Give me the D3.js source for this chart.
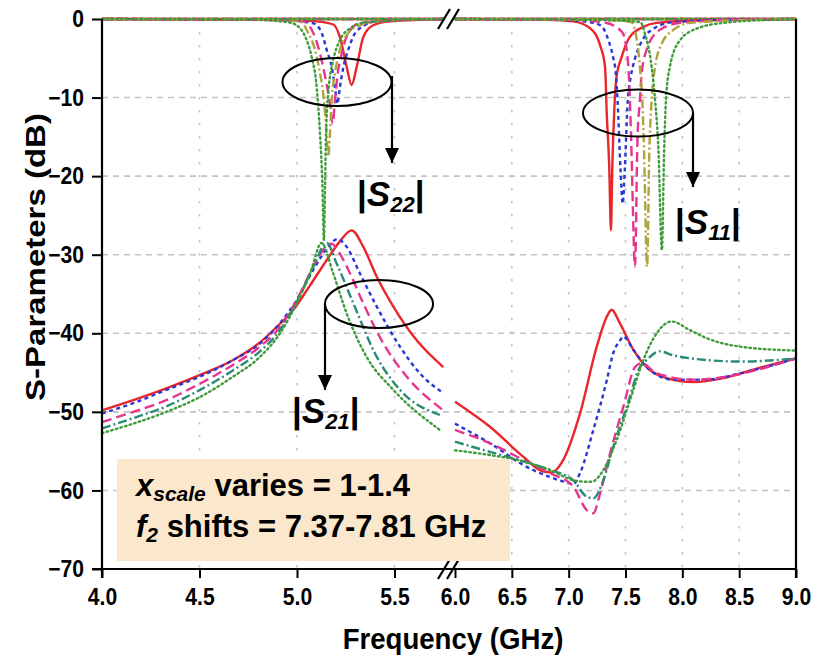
<!DOCTYPE html>
<html>
<head>
<meta charset="utf-8">
<script src="https://cdn.jsdelivr.net/npm/d3@7"></script>
<style>
  body { margin: 0; background: #fff; }
  svg text { font-family: "Liberation Sans", Arial, Helvetica, sans-serif; font-weight: bold; fill: #000; }
</style>
</head>
<body>
<svg id="chart" width="813" height="667"></svg>
<script>
// ---- axis ticks ----
const freqTicksLeft = [4.0, 4.5, 5.0, 5.5];
const freqTicksRight = [6.0, 6.5, 7.0, 7.5, 8.0, 8.5, 9.0];
const dbTicks = [0, -10, -20, -30, -40, -50, -60, -70];
const xscaleLabels = ["1.0", "1.1", "1.2", "1.3", "1.4"];

// ---- |S11| (dB) vs frequency (GHz), x_scale = 1.0 ... 1.4 ----
const s11Red = [[4.0,0],[5.75,0],[6.0,0],[6.8,-0.1],[7.04,-0.3],[7.19,-1.2],[7.28,-3.5],[7.32,-6.1],[7.335,-12],[7.357,-18.8],[7.372,-26.9],[7.384,-18.8],[7.399,-12.4],[7.42,-7.5],[7.467,-4.8],[7.54,-2.25],[7.657,-1.0],[7.774,-0.5],[8.2,-0.15],[9.0,0]];
const s11Blue = [[4.0,0],[5.75,0],[6.0,0],[6.9,-0.1],[7.13,-0.3],[7.28,-0.8],[7.35,-2.7],[7.39,-4.8],[7.415,-7],[7.43,-10.3],[7.455,-18.8],[7.475,-23.5],[7.495,-18.8],[7.52,-10.3],[7.545,-7.5],[7.584,-5],[7.657,-2.5],[7.75,-1.2],[7.92,-0.4],[8.4,-0.1],[9.0,0]];
const s11Magenta = [[4.0,0],[5.75,0],[6.0,0],[7.0,-0.1],[7.3,-0.4],[7.467,-1.6],[7.51,-3.9],[7.533,-8.2],[7.55,-15.4],[7.584,-31.5],[7.605,-15.4],[7.627,-10.3],[7.64,-7.3],[7.686,-3.9],[7.80,-1.4],[7.98,-0.5],[8.5,-0.1],[9.0,0]];
const s11Olive = [[4.0,0],[5.75,0],[6.0,0],[7.1,-0.1],[7.45,-0.2],[7.55,-0.4],[7.6,-2.7],[7.627,-6.1],[7.648,-10.3],[7.663,-16.7],[7.69,-31.5],[7.71,-16.7],[7.73,-10.3],[7.76,-6.1],[7.82,-3.1],[7.92,-1.4],[8.07,-0.5],[8.6,-0.1],[9.0,0]];
const s11Green = [[4.0,0],[5.75,0],[6.0,0],[7.2,-0.1],[7.63,-0.4],[7.67,-1.8],[7.73,-6.1],[7.76,-10.3],[7.79,-16.7],[7.82,-29.4],[7.84,-16.7],[7.856,-10.3],[7.89,-6.1],[7.98,-2.7],[8.13,-1.2],[8.36,-0.5],[8.8,-0.1],[9.0,0]];

// ---- |S22| (dB) ----
const s22Red = [[4.0,0],[4.9,-0.1],[5.1,-0.3],[5.186,-0.7],[5.22,-2.3],[5.255,-6.1],[5.28,-8.4],[5.306,-6.1],[5.34,-2.3],[5.39,-0.8],[5.477,-0.3],[5.75,-0.05],[6.0,0],[9.0,0]];
const s22Blue = [[4.0,0],[4.9,-0.1],[5.084,-0.55],[5.127,-1.8],[5.152,-3.9],[5.178,-6.1],[5.195,-8.7],[5.207,-10.8],[5.22,-8.7],[5.238,-6.1],[5.263,-3.9],[5.289,-2.2],[5.34,-0.9],[5.41,-0.3],[5.75,0],[6.0,0],[9.0,0]];
const s22Magenta = [[4.0,0],[4.85,-0.1],[5.03,-0.3],[5.084,-1.8],[5.118,-4.4],[5.144,-7.3],[5.166,-10.3],[5.183,-13.3],[5.195,-10.3],[5.207,-7.3],[5.229,-4.4],[5.263,-1.8],[5.323,-0.5],[5.75,0],[6.0,0],[9.0,0]];
const s22Olive = [[4.0,0],[4.8,-0.1],[5.015,-0.3],[5.058,-1.8],[5.092,-3.9],[5.118,-6.9],[5.138,-10.3],[5.152,-14.6],[5.16,-17.5],[5.169,-14.6],[5.178,-10.3],[5.195,-6.9],[5.22,-3.9],[5.263,-1.8],[5.323,-0.8],[5.45,-0.2],[5.75,0],[6.0,0],[9.0,0]];
const s22Green = [[4.0,0],[4.75,-0.1],[4.95,-0.4],[4.998,-0.8],[5.041,-2.2],[5.075,-4.8],[5.101,-8.7],[5.118,-14.6],[5.13,-20.9],[5.138,-28.1],[5.144,-20.9],[5.149,-14.6],[5.16,-9.5],[5.186,-5.2],[5.22,-2.7],[5.272,-1.2],[5.357,-0.4],[5.75,0],[6.0,0],[9.0,0]];

// ---- |S21| (dB) ----
const s21Red = [[4.0,-49.8],[4.16,-48.5],[4.33,-47.0],[4.503,-45.3],[4.673,-43.4],[4.793,-41.5],[4.896,-39.2],[4.981,-37.0],[5.067,-33.9],[5.152,-30.7],[5.22,-28.3],[5.28,-26.9],[5.34,-29.0],[5.409,-32.8],[5.494,-36.6],[5.614,-40.9],[5.75,-44.3],
  [6.0,-48.7],[6.308,-51.9],[6.6,-55.7],[6.777,-57.6],[6.85,-57.7],[6.953,-56.1],[7.1,-50.2],[7.247,-41.7],[7.335,-37.9],[7.378,-37.0],[7.45,-38.7],[7.569,-42.1],[7.686,-44.3],[7.862,-45.7],[8.097,-46.2],[8.36,-45.7],[8.654,-44.5],[9.0,-43.2]];
const s21Blue = [[4.0,-50.2],[4.16,-48.9],[4.33,-47.2],[4.503,-45.5],[4.673,-43.4],[4.81,-41.3],[4.913,-38.7],[4.998,-35.8],[5.084,-31.9],[5.16,-29.0],[5.207,-28.0],[5.255,-29.0],[5.323,-32.4],[5.409,-36.6],[5.528,-41.7],[5.63,-45.1],[5.75,-47.6],
  [6.0,-51.5],[6.308,-54.0],[6.63,-57.0],[6.836,-58.3],[7.01,-59.1],[7.04,-59.2],[7.1,-57.8],[7.217,-52.3],[7.335,-46.0],[7.393,-42.5],[7.452,-40.9],[7.48,-40.4],[7.569,-42.1],[7.686,-44.3],[7.92,-45.9],[8.21,-45.9],[8.507,-45.1],[9.0,-43.2]];
const s21Magenta = [[4.0,-51.3],[4.16,-50.0],[4.33,-48.5],[4.503,-46.4],[4.673,-44.0],[4.81,-41.7],[4.913,-39.2],[4.998,-35.8],[5.084,-31.5],[5.14,-29.2],[5.178,-28.6],[5.21,-29.5],[5.255,-31.5],[5.34,-36.2],[5.443,-41.3],[5.562,-45.5],[5.75,-49.8],
  [6.0,-52.3],[6.308,-54.0],[6.6,-56.1],[6.836,-57.8],[7.04,-59.5],[7.159,-62.5],[7.217,-62.9],[7.276,-60.4],[7.364,-55.3],[7.48,-49.4],[7.584,-44.3],[7.64,-43.8],[7.774,-45.1],[8.1,-45.9],[8.4,-45.5],[8.7,-44.5],[9.0,-43.2]];
const s21Teal = [[4.0,-52.1],[4.16,-50.8],[4.33,-49.3],[4.503,-47.2],[4.673,-44.7],[4.81,-42.3],[4.913,-39.6],[4.998,-36.0],[5.084,-31.5],[5.152,-28.5],[5.203,-31.1],[5.289,-36.2],[5.409,-43.0],[5.528,-47.2],[5.733,-50.4],
  [6.0,-53.8],[6.308,-55.1],[6.6,-56.3],[6.836,-57.4],[7.04,-58.7],[7.159,-60.8],[7.217,-61.0],[7.305,-58.7],[7.393,-54.4],[7.51,-49.4],[7.627,-44.3],[7.686,-43.4],[7.80,-42.3],[7.92,-42.8],[8.21,-43.4],[8.507,-43.6],[9.0,-43.2]];
const s21Green = [[4.0,-52.7],[4.16,-51.5],[4.33,-50.0],[4.503,-48.1],[4.673,-45.5],[4.81,-43.0],[4.913,-40.0],[4.998,-36.2],[5.067,-32.4],[5.126,-28.5],[5.186,-32.4],[5.255,-37.5],[5.357,-43.0],[5.494,-47.2],[5.733,-52.3],
  [6.0,-54.9],[6.308,-55.5],[6.6,-56.3],[6.836,-57.4],[7.04,-58.7],[7.159,-58.9],[7.2,-58.9],[7.305,-57.4],[7.422,-53.6],[7.54,-48.5],[7.657,-43.4],[7.774,-40.0],[7.906,-38.5],[8.067,-39.6],[8.21,-40.6],[8.507,-41.7],[9.0,-42.2]];

// ---- line styles per x_scale ----
const reflColors = ["#e8262b", "#2a35d8", "#e5358f", "#b0a23c", "#3f9c3a"];
const transColors = ["#e8262b", "#2a35d8", "#e5358f", "#2b8a78", "#3f9c3a"];
const dashes = [null, "4,3.5", "10,5", "9,3,2,3", "1.6,3.2"];

// ---- layout ----
const svg = d3.select("#chart");
const L = 102, R = 796, T = 19, B = 569;
const leftEnd = 5.75;
const xL = d3.scaleLinear().domain([4.0, leftEnd]).range([L, L + (leftEnd - 4.0) * 195]);
const xR = d3.scaleLinear().domain([6.0, 9.0]).range([455, R]);
const y = d3.scaleLinear().domain([-70, 0]).range([B, T]);

// grid
const grid = svg.append("g");
grid.selectAll("line.h").data(dbTicks.filter(d => d < 0 && d > -70)).enter().append("line")
  .attr("x1", L).attr("x2", R).attr("y1", d => y(d)).attr("y2", d => y(d))
  .attr("stroke", "#c4c4c4").attr("stroke-width", 1.6).attr("stroke-dasharray", "6,5");
const vgrid = freqTicksLeft.filter(d => d > 4).map(d => xL(d))
  .concat(freqTicksRight.filter(d => d > 6 && d < 9).map(d => xR(d)));
grid.selectAll("line.v").data(vgrid).enter().append("line")
  .attr("x1", d => d).attr("x2", d => d).attr("y1", T).attr("y2", B)
  .attr("stroke", "#c4c4c4").attr("stroke-width", 1.6).attr("stroke-dasharray", "2.5,10.5");

// curves (left and right of the axis break drawn separately)
const curves = svg.append("g").attr("fill", "none");
function drawSeries(data, color, dash) {
  const parts = [[data.filter(d => d[0] <= leftEnd + 1e-9), xL], [data.filter(d => d[0] >= 6.0 - 1e-9), xR]];
  parts.forEach(([pts, x]) => {
    if (pts.length < 2) return;
    curves.append("path").datum(pts)
      .attr("d", d3.line().x(d => x(d[0])).y(d => y(d[1])).curve(d3.curveMonotoneX))
      .attr("stroke", color).attr("stroke-width", 2.4)
      .attr("stroke-dasharray", dash)
      .attr("stroke-linecap", dash === dashes[4] ? "round" : "butt");
  });
}
const s21Set = [s21Red, s21Blue, s21Magenta, s21Teal, s21Green];
const s22Set = [s22Red, s22Blue, s22Magenta, s22Olive, s22Green];
const s11Set = [s11Red, s11Blue, s11Magenta, s11Olive, s11Green];
s21Set.forEach((s, i) => drawSeries(s, transColors[i], dashes[i]));
s22Set.forEach((s, i) => drawSeries(s, reflColors[i], dashes[i]));
s11Set.forEach((s, i) => drawSeries(s, reflColors[i], dashes[i]));

// axes (tick text slightly condensed horizontally)
const squeeze = 0.88;
const fmt = d3.format(".1f");
const axisY = svg.append("g").attr("transform", `translate(${L},0)`)
  .call(d3.axisLeft(y).tickValues(dbTicks).tickFormat(d3.format("d")).tickSize(10).tickPadding(10.5));
const axisXL = svg.append("g").attr("transform", `translate(0,${B})`)
  .call(d3.axisBottom(xL).tickValues(freqTicksLeft).tickFormat(fmt).tickSize(9).tickPadding(9.5));
const axisXR = svg.append("g").attr("transform", `translate(0,${B})`)
  .call(d3.axisBottom(xR).tickValues(freqTicksRight).tickFormat(fmt).tickSize(9).tickPadding(9.5));
[axisY, axisXL, axisXR].forEach(a => {
  a.select(".domain").remove();
  a.selectAll(".tick line").attr("stroke", "#000").attr("stroke-width", 2);
  a.selectAll(".tick text").attr("font-size", 24).attr("transform", `scale(${squeeze},1)`);
});

// frame
const frame = svg.append("g").attr("stroke", "#000").attr("stroke-width", 2.2);
frame.append("line").attr("x1", L).attr("x2", L).attr("y1", T).attr("y2", B + 9);
frame.append("line").attr("x1", R).attr("x2", R).attr("y1", T).attr("y2", B + 9);
frame.append("line").attr("x1", L - 10).attr("x2", R + 1).attr("y1", B).attr("y2", B);

// axis break marks
[T, B].forEach(yy => {
  [0, 9].forEach(off => {
    svg.append("line")
      .attr("x1", 438 + off).attr("y1", yy + 10)
      .attr("x2", 450 + off).attr("y2", yy - 10)
      .attr("stroke", "#000").attr("stroke-width", 2.2);
  });
});

// axis titles
svg.append("text").attr("transform", "translate(453,649) scale(0.92,1)").attr("text-anchor", "middle")
  .attr("font-size", 30).text("Frequency (GHz)");
svg.append("text").attr("transform", "translate(45,257) rotate(-90) scale(1,0.85)").attr("text-anchor", "middle")
  .attr("font-size", 33).text("S-Parameters (dB)");

// annotations: ellipse + arrow + label
const defs = svg.append("defs");
defs.append("marker").attr("id", "head").attr("viewBox", "0 0 14 15")
  .attr("refX", 7).attr("refY", 15).attr("markerWidth", 14).attr("markerHeight", 15)
  .attr("markerUnits", "userSpaceOnUse").attr("orient", "0")
  .append("path").attr("d", "M0,0 L14,0 L7,15 Z").attr("fill", "#000");

function annotate(cx, cy, rx, ry, ax, ay0, ay1, lx, ly, sub) {
  svg.append("ellipse").attr("cx", cx).attr("cy", cy).attr("rx", rx).attr("ry", ry)
    .attr("fill", "none").attr("stroke", "#000").attr("stroke-width", 2);
  svg.append("line").attr("x1", ax).attr("x2", ax).attr("y1", ay0).attr("y2", ay1)
    .attr("stroke", "#000").attr("stroke-width", 2.2).attr("marker-end", "url(#head)");
  const t = svg.append("text").attr("x", lx).attr("y", ly).attr("font-size", 35);
  t.append("tspan").text("|");
  t.append("tspan").attr("font-style", "italic").text("S");
  t.append("tspan").attr("font-style", "italic").attr("font-size", 22).attr("dy", 6).text(sub);
  t.append("tspan").attr("dy", -6).text("|");
}
annotate(337, 82, 54.5, 24, 392, 76, 163, 357, 206, "22");
annotate(638, 113, 55, 23.5, 693, 113, 187, 675, 234, "11");
annotate(379, 304, 54, 24, 325, 304, 390, 292, 423, "21");

// parameter note
const note = svg.append("g");
note.append("rect").attr("x", 117).attr("y", 459).attr("width", 393).attr("height", 102).attr("fill", "#fae7cc");
const l1 = note.append("text").attr("x", 136).attr("y", 496).attr("font-size", 31);
l1.append("tspan").attr("font-style", "italic").text("x");
l1.append("tspan").attr("font-style", "italic").attr("font-size", 21).attr("dy", 5).text("scale");
l1.append("tspan").attr("dy", -5).text(" varies = 1-1.4");
const l2 = note.append("text").attr("x", 136).attr("y", 537).attr("font-size", 31);
l2.append("tspan").attr("font-style", "italic").text("f");
l2.append("tspan").attr("font-style", "italic").attr("font-size", 21).attr("dy", 5).text("2");
l2.append("tspan").attr("dy", -5).text(" shifts = 7.37-7.81 GHz");
</script>
</body>
</html>
